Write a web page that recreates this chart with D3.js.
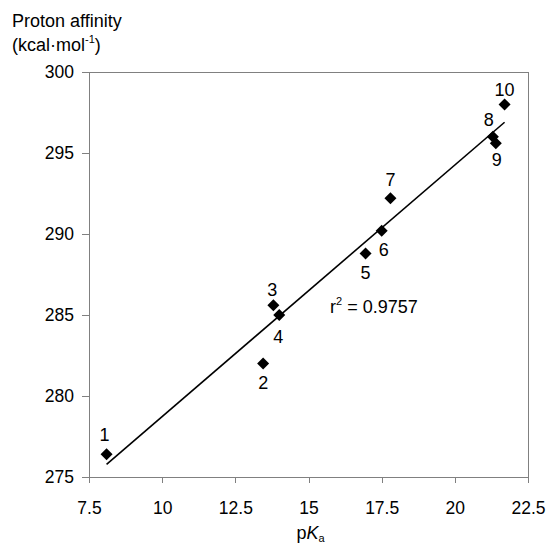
<!DOCTYPE html>
<html>
<head>
  <meta charset="utf-8">
  <title>Proton affinity vs pKa</title>
  <script src="https://d3js.org/d3.v7.min.js"></script>
  <style>
    body { margin: 0; background: #fff; }
    text { font-family: "Liberation Sans", Arial, sans-serif; fill: #000; }
    .axis path, .axis line { stroke: #808080; stroke-width: 1; shape-rendering: crispEdges; }
    .axis text { font-size: 17.5px; fill: #000; }
  </style>
</head>
<body>
  <svg width="548" height="543"></svg>

  <script>
    // data
    var compounds = ["1", "2", "3", "4", "5", "6", "7", "8", "9", "10"];
    var pKa = [8.1, 13.45, 13.8, 14.0, 16.95, 17.5, 17.8, 21.3, 21.4, 21.7];
    var protonAffinity = [276.4, 282.0, 285.6, 285.0, 288.8, 290.2, 292.2, 296.0, 295.6, 298.0];
    var xTicks = [7.5, 10, 12.5, 15, 17.5, 20, 22.5];
    var yTicks = [275, 280, 285, 290, 295, 300];
    var r2Label = "0.9757";

    // label placement around each marker (pixels)
    var labelDx = [-2, 0, -1, -1, 0, 2, 0, -4, 1, 0];
    var labelDy = [-20, 19, -16, 22, 19, 19, -19, -17, 16, -15];

    var mLeft = 89, mRight = 528, mTop = 72, mBottom = 477;

    var x = d3.scaleLinear().domain([7.5, 22.5]).range([mLeft, mRight]);
    var y = d3.scaleLinear().domain([275, 300]).range([mBottom, mTop]);

    var svg = d3.select("svg");

    // frame
    svg.append("rect")
      .attr("x", mLeft).attr("y", mTop)
      .attr("width", mRight - mLeft).attr("height", mBottom - mTop)
      .attr("fill", "none").attr("stroke", "#808080")
      .attr("shape-rendering", "crispEdges");

    svg.append("g")
      .attr("class", "axis")
      .attr("transform", "translate(0," + mBottom + ")")
      .call(d3.axisBottom(x).tickValues(xTicks).tickSize(6).tickPadding(19).tickSizeOuter(0)
        .tickFormat(function(d) { return String(d); }));

    svg.append("g")
      .attr("class", "axis")
      .attr("transform", "translate(" + mLeft + ",0)")
      .call(d3.axisLeft(y).tickValues(yTicks).tickSize(7).tickPadding(8).tickSizeOuter(0));

    // regression line
    var pts = pKa.map(function(v, i) { return [v, protonAffinity[i]]; });
    var mx = d3.mean(pKa), my = d3.mean(protonAffinity);
    var sxy = d3.sum(pts, function(p) { return (p[0] - mx) * (p[1] - my); });
    var sxx = d3.sum(pts, function(p) { return (p[0] - mx) * (p[0] - mx); });
    var slope = sxy / sxx, icpt = my - slope * mx;
    var x0 = d3.min(pKa), x1 = d3.max(pKa);

    svg.append("line")
      .attr("x1", x(x0)).attr("y1", y(icpt + slope * x0))
      .attr("x2", x(x1)).attr("y2", y(icpt + slope * x1))
      .attr("stroke", "#000").attr("stroke-width", 1.6);

    // markers
    var diamond = d3.symbol().type(d3.symbolSquare).size(72);
    svg.selectAll(".pt")
      .data(pts)
      .enter()
      .append("path")
      .attr("class", "pt")
      .attr("d", diamond)
      .attr("fill", "#000")
      .attr("transform", function(d) { return "translate(" + x(d[0]) + "," + y(d[1]) + ") rotate(45)"; });

    svg.selectAll(".lbl")
      .data(pts)
      .enter()
      .append("text")
      .attr("class", "lbl")
      .attr("x", function(d, i) { return x(d[0]) + labelDx[i]; })
      .attr("y", function(d, i) { return y(d[1]) + labelDy[i]; })
      .attr("dy", "0.36em")
      .attr("text-anchor", "middle")
      .style("font-size", "18px")
      .text(function(d, i) { return compounds[i]; });

    // r squared
    var r2 = svg.append("text")
      .attr("x", 330).attr("y", 313)
      .style("font-size", "18px");
    r2.append("tspan").text("r");
    r2.append("tspan").attr("dy", -8).style("font-size", "11px").text("2");
    r2.append("tspan").attr("dy", 8).text(" = " + r2Label);

    // axis titles
    var yt = svg.append("text").attr("x", 12).attr("y", 27).style("font-size", "18px");
    yt.append("tspan").text("Proton affinity");
    var yt2 = svg.append("text").attr("x", 12).attr("y", 51).style("font-size", "18px");
    yt2.append("tspan").text("(kcal\u00b7mol");
    yt2.append("tspan").attr("dy", -8).style("font-size", "11px").text("-1");
    yt2.append("tspan").attr("dy", 8).text(")");

    var xt = svg.append("text")
      .attr("x", (mLeft + mRight) / 2 + 2).attr("y", 539)
      .attr("text-anchor", "middle")
      .style("font-size", "18px");
    xt.append("tspan").text("p");
    xt.append("tspan").style("font-style", "italic").text("K");
    xt.append("tspan").attr("dy", 3).style("font-size", "11px").text("a");
  </script>
</body>
</html>
